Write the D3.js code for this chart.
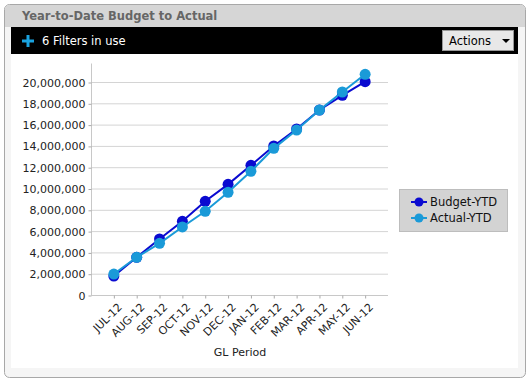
<!DOCTYPE html>
<html>
<head>
<meta charset="utf-8">
<script src="https://cdn.jsdelivr.net/npm/d3@7"></script>
<style>
  body { margin: 0; background: #fff; }
</style>
</head>
<body>
<svg id="chart" width="530" height="384"></svg>
<script>
var periods = ["JUL-12", "AUG-12", "SEP-12", "OCT-12", "NOV-12", "DEC-12",
               "JAN-12", "FEB-12", "MAR-12", "APR-12", "MAY-12", "JUN-12"];
var budgetYTD = [1780000, 3540000, 5260000, 6920000, 8800000, 10390000,
                 12180000, 13990000, 15590000, 17370000, 18750000, 20030000];
var actualYTD = [1970000, 3540000, 4850000, 6390000, 7860000, 9640000,
                 11610000, 13770000, 15490000, 17370000, 19060000, 20720000];
var yTicks = [0, 2000000, 4000000, 6000000, 8000000, 10000000,
              12000000, 14000000, 16000000, 18000000, 20000000];
var seriesNames = ["Budget-YTD", "Actual-YTD"];
var seriesColors = ["#0a0ad0", "#1a9ad8"];

var svg = d3.select("#chart");
var font = "'DejaVu Sans', sans-serif";

// outer panel
svg.append("rect").attr("x", 4.5).attr("y", 4.5).attr("width", 521).attr("height", 373)
  .attr("rx", 5).attr("fill", "#f5f5f5").attr("stroke", "#a8a8a8");
// title bar
svg.append("path")
  .attr("d", "M5,27 L5,9 Q5,5 9,5 L521,5 Q525,5 525,9 L525,27 Z")
  .attr("fill", "#d6d6d6");
svg.append("text").attr("x", 22).attr("y", 20)
  .attr("font-family", "Tahoma, 'DejaVu Sans', sans-serif").attr("font-weight", "bold")
  .attr("font-size", 11.5).attr("fill", "#666")
  .text("Year-to-Date Budget to Actual");

// filter bar
svg.append("rect").attr("x", 11).attr("y", 27).attr("width", 507).attr("height", 27).attr("fill", "#000");
svg.append("path").attr("d", "M22,41 h12 M28,35 v12").attr("stroke", "#1aa3e0").attr("stroke-width", 3);
svg.append("text").attr("x", 42).attr("y", 45)
  .attr("font-family", font).attr("font-size", 11.5).attr("fill", "#fff")
  .text("6 Filters in use");
svg.append("rect").attr("x", 442.5).attr("y", 30.5).attr("width", 71).attr("height", 20)
  .attr("fill", "#e8e8e8").attr("stroke", "#999");
svg.append("text").attr("x", 449).attr("y", 45)
  .attr("font-family", font).attr("font-size", 11.5).attr("fill", "#000").text("Actions");
svg.append("path").attr("d", "M502,39 h8 l-4,4 z").attr("fill", "#000");

// white content area
svg.append("rect").attr("x", 11).attr("y", 54).attr("width", 507).attr("height", 314).attr("fill", "#fff");

// plot
var x = d3.scalePoint().domain(periods).range([91, 388]).padding(1);
var y = d3.scaleLinear().domain([0, 20000000]).range([295, 82]);

var grid = svg.append("g");
grid.selectAll("line").data(yTicks.slice(1)).join("line")
  .attr("x1", 91).attr("x2", 388)
  .attr("y1", function(d) { return y(d) + 0.5; }).attr("y2", function(d) { return y(d) + 0.5; })
  .attr("stroke", "#d4d4d4");

var yAxis = svg.append("g").attr("transform", "translate(91.5,0.5)")
  .call(d3.axisLeft(y).tickValues(yTicks).tickSize(3).tickPadding(3).tickFormat(d3.format(",")));
yAxis.select(".domain").attr("d", "M0,63V295");
var xAxis = svg.append("g").attr("transform", "translate(0,295.5)")
  .call(d3.axisBottom(x).tickSize(3).tickSizeOuter(0));
xAxis.select(".domain").attr("d", "M91,0H388");
svg.selectAll(".domain").attr("stroke", "#c8c8c8");
svg.selectAll(".tick line").attr("stroke", "#aaa");
svg.selectAll(".tick text").attr("font-family", font).attr("font-size", 11).attr("fill", "#222");
xAxis.selectAll(".tick text")
  .attr("text-anchor", "end").attr("dx", "0").attr("dy", "0")
  .attr("transform", "translate(4,8) rotate(-45)");

svg.append("text").attr("x", 240).attr("y", 356).attr("text-anchor", "middle")
  .attr("font-family", font).attr("font-size", 11).attr("fill", "#222").text("GL Period");

var allSeries = [budgetYTD, actualYTD];
var line = d3.line().x(function(d, i) { return x(periods[i]); }).y(function(d) { return y(d); });
allSeries.forEach(function(vals, s) {
  var g = svg.append("g");
  g.append("path").attr("d", line(vals)).attr("fill", "none")
    .attr("stroke", seriesColors[s]).attr("stroke-width", 2);
  g.selectAll("circle").data(vals).join("circle")
    .attr("cx", function(d, i) { return x(periods[i]); })
    .attr("cy", function(d) { return y(d); })
    .attr("r", 5.5).attr("fill", seriesColors[s]);
});

// legend
var lg = svg.append("g");
lg.append("rect").attr("x", 399.5).attr("y", 189.5).attr("width", 108).attr("height", 42)
  .attr("fill", "#d3d3d3").attr("stroke", "#bdbdbd");
seriesNames.forEach(function(name, i) {
  var cy = 202 + i * 16;
  lg.append("line").attr("x1", 411).attr("x2", 427).attr("y1", cy).attr("y2", cy)
    .attr("stroke", seriesColors[i]).attr("stroke-width", 2);
  lg.append("circle").attr("cx", 419).attr("cy", cy).attr("r", 4.5).attr("fill", seriesColors[i]);
  lg.append("text").attr("x", 430).attr("y", cy + 4)
    .attr("font-family", font).attr("font-size", 11.5).attr("fill", "#111").text(name);
});
</script>
</body>
</html>
